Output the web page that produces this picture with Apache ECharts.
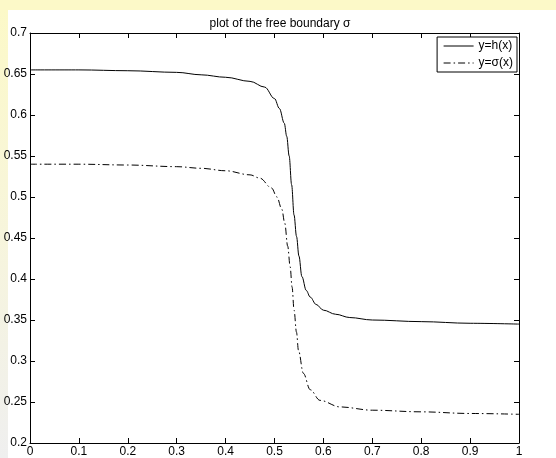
<!DOCTYPE html>
<html>
<head>
<meta charset="utf-8">
<script src="https://cdn.jsdelivr.net/npm/echarts@6/dist/echarts.min.js"></script>
<style>
  html, body { margin: 0; padding: 0; }
  body { width: 556px; height: 458px; position: relative; overflow: hidden; background: #fcf9c8; }
  #strip { position: absolute; left: 0; top: 10px; width: 8px; height: 448px;
           background: linear-gradient(to bottom, #fcf9c8 0%, #f7f5dc 50%, #efefef 100%); }
  #paper { position: absolute; left: 8px; top: 10px; width: 548px; height: 448px; background: #ffffff; }
  #chart { position: absolute; left: 0; top: 0; width: 556px; height: 458px; }
</style>
</head>
<body>
<div id="strip"></div>
<div id="paper"></div>
<div id="chart"></div>
<script>
// Free boundary curves: h(x) and sigma(x)
const hX     = [0, 0.1, 0.2, 0.3, 0.35, 0.4, 0.45, 0.48, 0.5, 0.51, 0.52, 0.525, 0.53, 0.535, 0.54, 0.545, 0.55, 0.556, 0.565, 0.573, 0.585, 0.6, 0.625, 0.654, 0.7, 0.8, 0.9, 1.0];
const hY     = [0.655, 0.655, 0.654, 0.652, 0.649, 0.646, 0.641, 0.634, 0.620, 0.608, 0.590, 0.574, 0.550, 0.515, 0.478, 0.452, 0.428, 0.403, 0.386, 0.378, 0.369, 0.362, 0.357, 0.353, 0.350, 0.348, 0.346, 0.345];
const sigmaX = [0, 0.1, 0.2, 0.3, 0.35, 0.4, 0.45, 0.47, 0.494, 0.505, 0.515, 0.521, 0.527, 0.532, 0.536, 0.540, 0.545, 0.549, 0.559, 0.573, 0.593, 0.634, 0.7, 0.8, 0.9, 1.0];
const sigmaY = [0.540, 0.540, 0.539, 0.537, 0.535, 0.532, 0.527, 0.523, 0.511, 0.500, 0.485, 0.468, 0.440, 0.415, 0.390, 0.362, 0.335, 0.313, 0.285, 0.265, 0.252, 0.244, 0.240, 0.238, 0.236, 0.235];
const seriesNames = ['y=h(x)', 'y=\u03c3(x)'];
const titleText = 'plot of the free boundary \u03c3';

const pairs = (xs, ys) => xs.map((x, i) => [x, ys[i]]);
const font = 'Liberation Sans, Arial, Helvetica, sans-serif';
const numLabel = v => String(+v.toFixed(2));

const chart = echarts.init(document.getElementById('chart'), null, { renderer: 'canvas' });

const xBase = {
  type: 'value', min: 0, max: 1, interval: 0.1,
  axisLine: { show: true, onZero: false, lineStyle: { color: '#000', width: 1 } },
  axisTick: { show: true, inside: true, length: 5, lineStyle: { color: '#000' } },
  splitLine: { show: false }
};
const yBase = {
  type: 'value', min: 0.2, max: 0.7, interval: 0.05,
  axisLine: { show: true, onZero: false, lineStyle: { color: '#000', width: 1 } },
  axisTick: { show: true, inside: true, length: 5, lineStyle: { color: '#000' } },
  splitLine: { show: false }
};

chart.setOption({
  animation: false,
  backgroundColor: 'transparent',
  textStyle: { fontFamily: font },
  title: {
    text: titleText, left: 275, top: 13, textAlign: 'center',
    textStyle: { fontSize: 12, fontWeight: 'normal', color: '#000', fontFamily: font }
  },
  legend: {
    right: 39, top: 37,
    orient: 'vertical',
    itemWidth: 30, itemHeight: 10, itemGap: 5,
    padding: [3, 4, 3, 6],
    borderColor: '#000', borderWidth: 1, backgroundColor: '#fff',
    itemStyle: { opacity: 0 },
    lineStyle: { width: 1 },
    textStyle: { fontSize: 12, color: '#000', fontFamily: font },
    data: seriesNames
  },
  grid: { left: 30, top: 33, width: 489, height: 410, containLabel: false },
  xAxis: [
    Object.assign({}, xBase, {
      position: 'bottom',
      axisLabel: { show: true, color: '#000', fontSize: 12, margin: 3, fontFamily: font, formatter: numLabel }
    }),
    Object.assign({}, xBase, { position: 'top', axisLabel: { show: false } })
  ],
  yAxis: [
    Object.assign({}, yBase, {
      position: 'left',
      axisLabel: { show: true, color: '#000', fontSize: 12, margin: 3, fontFamily: font, formatter: numLabel }
    }),
    Object.assign({}, yBase, { position: 'right', axisLabel: { show: false } })
  ],
  series: [
    {
      name: seriesNames[0], type: 'line', symbol: 'none',
      smooth: 0.35, smoothMonotone: 'x',
      lineStyle: { color: '#000', width: 1, type: 'solid' },
      itemStyle: { color: '#000' },
      data: pairs(hX, hY)
    },
    {
      name: seriesNames[1], type: 'line', symbol: 'none',
      smooth: 0.35, smoothMonotone: 'x',
      lineStyle: { color: '#000', width: 1, type: [7, 3, 1.5, 3] },
      itemStyle: { color: '#000' },
      data: pairs(sigmaX, sigmaY)
    }
  ]
});
</script>
</body>
</html>
